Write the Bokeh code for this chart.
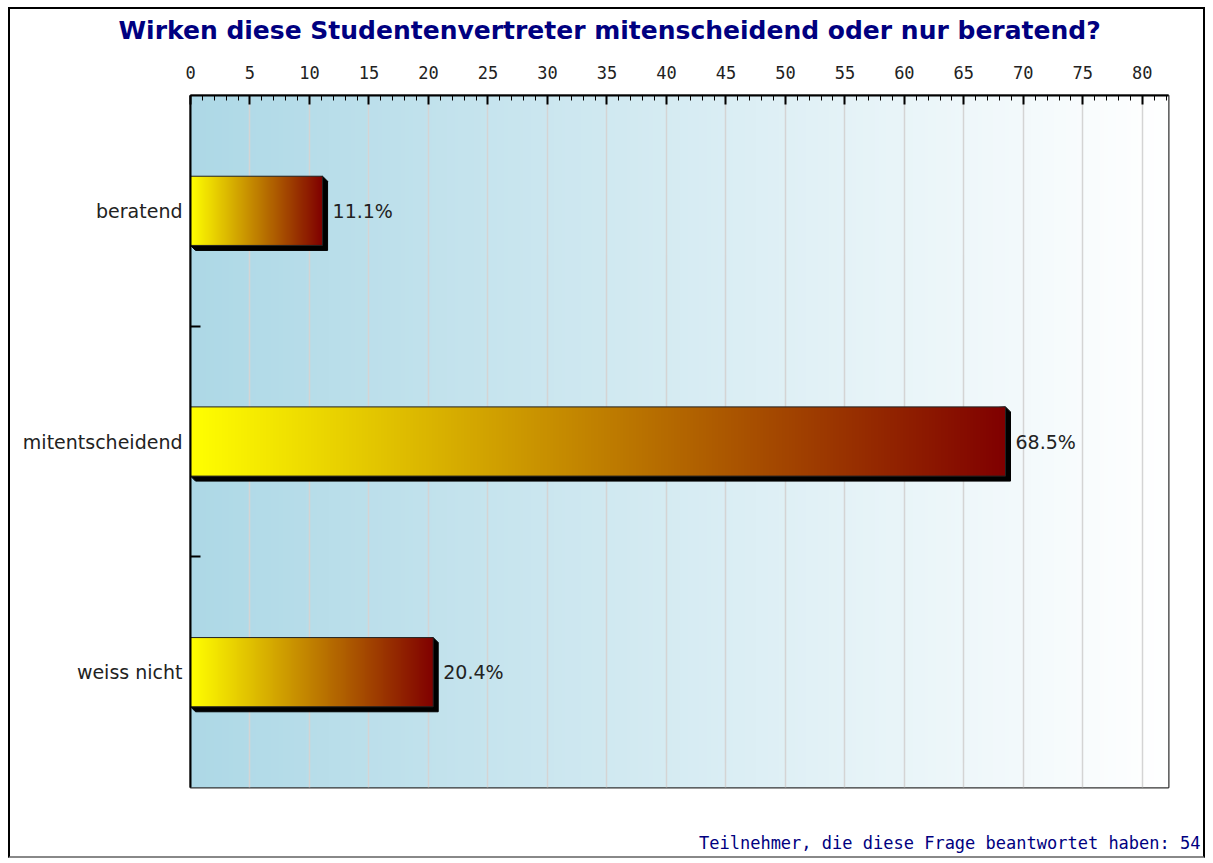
import numpy as np
from bokeh.plotting import figure
from bokeh.models import Range1d, FixedTicker, SingleIntervalTicker, Title
from bokeh.embed import file_html
from bokeh.resources import INLINE
from bokeh.core.properties import value

# ---------------- data ----------------
categories = ["beratend", "mitentscheidend", "weiss nicht"]
percentages = [11.1, 68.5, 20.4]
value_labels = ["11.1%", "68.5%", "20.4%"]
x_tick_interval = 5
x_max = 82.2
title_text = "Wirken diese Studentenvertreter mitenscheidend oder nur beratend?"
footer_text = "Teilnehmer, die diese Frage beantwortet haben: 54"

# ---------------- layout ----------------
W, H = 1197, 851
BL, BR, BT, BB = 180, 39, 86, 73
n = len(categories)
centers = [n - i - 0.5 for i in range(n)]
bar_h = 0.3
px_x = (W - BL - BR) / x_max
px_y = (H - BT - BB) / n

p = figure(width=W, height=H, output_backend="svg", toolbar_location=None,
           x_range=Range1d(0, x_max), y_range=Range1d(0, n),
           x_axis_location="above",
           min_border_left=BL, min_border_right=BR,
           min_border_top=BT, min_border_bottom=BB)
p.background_fill_color = "white"
p.border_fill_color = "white"
p.outline_line_color = "#333333"
p.outline_line_width = 2
p.styles = {"margin-left": "8px", "margin-top": "7px",
            "border-left": "2px solid black", "border-top": "2px solid black",
            "border-right": "2px solid black", "border-bottom": "2px solid #888888"}


def gradient(c0, c1, N=256):
    img = np.empty((1, N), dtype=np.uint32)
    v = img.view(dtype=np.uint8).reshape((1, N, 4))
    t = np.linspace(0, 1, N)
    for k in range(3):
        v[0, :, k] = np.round(c0[k] + (c1[k] - c0[k]) * t).astype(np.uint8)
    v[0, :, 3] = 255
    return img

# background gradient
bg = p.image_rgba(image=[gradient((173, 216, 230), (255, 255, 255))],
                  x=0, y=0, dw=x_max, dh=n)
bg.level = "image"

# shadows
dx = 5 / px_x
dy = 5 / px_y
sx, sy = [], []
for v_, c in zip(percentages, centers):
    top, bot = c + bar_h / 2, c - bar_h / 2
    sx.append([v_, v_ + dx, v_ + dx, dx, 0])
    sy.append([top, top - dy, bot - dy, bot - dy, bot])
p.patches(xs=sx, ys=sy, fill_color="black", line_color="black", line_width=1)

# bars with gradient
for v_, c in zip(percentages, centers):
    p.image_rgba(image=[gradient((255, 255, 0), (128, 0, 0))],
                 x=0, y=c - bar_h / 2, dw=v_, dh=bar_h)
p.quad(left=[0] * n, right=percentages,
       top=[c + bar_h / 2 for c in centers],
       bottom=[c - bar_h / 2 for c in centers],
       fill_color=None, line_color="#222222", line_width=1)

# value labels
p.text(x=percentages, y=centers, text=value_labels, x_offset=10,
       text_align="left", text_baseline="middle",
       text_font=value("DejaVu Sans"), text_font_size="19px",
       text_color="#222222")

# x axis (top)
xa = p.xaxis[0]
xa.ticker = SingleIntervalTicker(interval=x_tick_interval, num_minor_ticks=5)
xa.major_tick_in = 9
xa.major_tick_out = 0
xa.minor_tick_in = 5
xa.minor_tick_out = 0
xa.major_tick_line_width = 2
xa.major_tick_line_color = "black"
xa.minor_tick_line_color = "black"
xa.axis_line_color = "black"
xa.axis_line_width = 2
xa.major_label_standoff = 17
xa.major_label_text_font = "DejaVu Sans Mono"
xa.major_label_text_font_size = "17px"
xa.major_label_text_color = "#222222"

p.xgrid.ticker = SingleIntervalTicker(interval=x_tick_interval)
p.xgrid.grid_line_color = "#d4d4d4"
p.xgrid.grid_line_width = 1.5
p.ygrid.visible = False

# y axis (left, categories)
ya = p.yaxis[0]
ya.ticker = FixedTicker(ticks=centers, minor_ticks=[float(k) for k in range(1, n)])
ya.major_label_overrides = {c: cat for c, cat in zip(centers, categories)}
ya.major_tick_in = 0
ya.major_tick_out = 0
ya.minor_tick_in = 10
ya.minor_tick_out = 0
ya.minor_tick_line_color = "black"
ya.minor_tick_line_width = 2
ya.axis_line_color = "black"
ya.axis_line_width = 2
ya.major_label_standoff = 8
ya.major_label_text_font = "DejaVu Sans"
ya.major_label_text_font_size = "19px"
ya.major_label_text_color = "#222222"

# title (above the top axis, with a spacer) and footer (below, with a spacer)
p.add_layout(Title(text=" ", text_font_size="1px", standoff=15), "above")
p.add_layout(Title(text=title_text, align="left", offset=-72, standoff=0,
                   text_font="DejaVu Sans", text_font_style="bold",
                   text_font_size="25px", text_color="#000080"), "above")
p.add_layout(Title(text=" ", text_font_size="1px", standoff=40), "below")
p.add_layout(Title(text=footer_text, align="right", offset=-32, standoff=0,
                   text_font="DejaVu Sans Mono", text_font_size="17px",
                   text_font_style="normal", text_color="#000080"), "below")

open("out.html", "w").write(file_html(p, INLINE))
